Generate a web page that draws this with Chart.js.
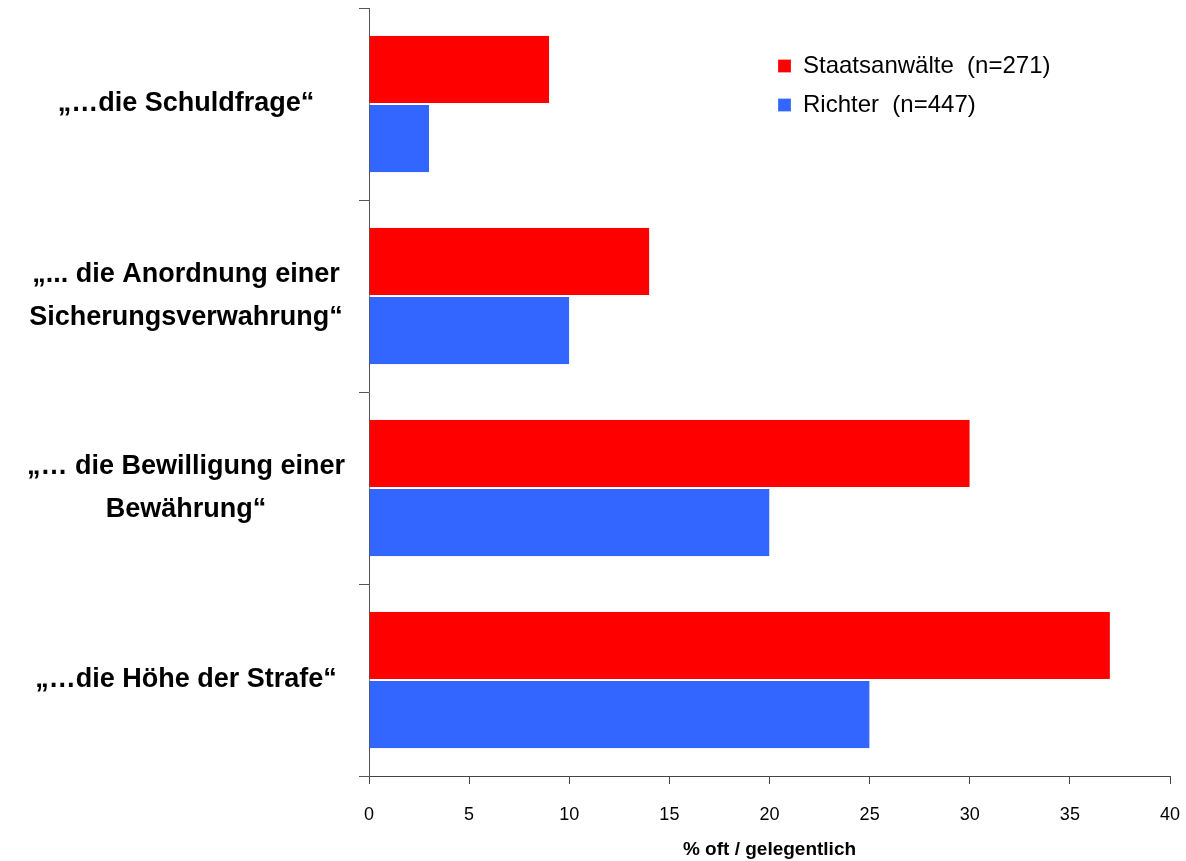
<!DOCTYPE html>
<html>
<head>
<meta charset="utf-8">
<script src="https://cdn.jsdelivr.net/npm/chart.js@4/dist/chart.umd.min.js"></script>
<style>
  html, body { margin: 0; padding: 0; background: #fff; }
  #wrap { width: 1186px; height: 861px; }
</style>
</head>
<body>
<div id="wrap"><canvas id="chart" width="1186" height="861"></canvas></div>
<script>
// Data
const categories = [
    ['\u201E\u2026die Schuldfrage\u201C'],
    ['\u201E... die Anordnung einer', 'Sicherungsverwahrung\u201C'],
    ['\u201E\u2026 die Bewilligung einer', 'Bew\u00E4hrung\u201C'],
    ['\u201E\u2026die H\u00F6he der Strafe\u201C']
];
const staatsanwaelte = [9, 14, 30, 37];
const richter = [3, 10, 20, 25];
const seriesLabels = ['Staatsanw\u00E4lte  (n=271)', 'Richter  (n=447)'];
const xTicks = [0, 5, 10, 15, 20, 25, 30, 35, 40];
const xTitle = '% oft / gelegentlich';

const FONT = "'Liberation Sans', Arial, sans-serif";

// move the legend into the top right corner of the plot
const legendPlacer = {
    id: 'legendPlacer',
    afterLayout(chart) {
        const lg = chart.legend;
        if (!lg) return;
        const w = lg.width, h = lg.height;
        lg.left = 763;
        lg.top = 39;
        lg.right = lg.left + w;
        lg.bottom = lg.top + h;
    }
};

const ctx = document.getElementById('chart').getContext('2d');
new Chart(ctx, {
    type: 'bar',
    data: {
        labels: categories,
        datasets: [
            {
                label: seriesLabels[0],
                data: staatsanwaelte,
                backgroundColor: '#FF0000',
                borderColor: '#FFFFFF',
                borderWidth: { top: 0, right: 0, bottom: 1, left: 0 },
                borderSkipped: false
            },
            {
                label: seriesLabels[1],
                data: richter,
                backgroundColor: '#3366FF',
                borderColor: '#FFFFFF',
                borderWidth: { top: 1, right: 0, bottom: 0, left: 0 },
                borderSkipped: false
            }
        ]
    },
    options: {
        indexAxis: 'y',
        responsive: false,
        animation: false,
        categoryPercentage: 0.71,
        barPercentage: 1.0,
        layout: { padding: { left: 0, right: 16, top: 8, bottom: 0 } },
        plugins: {
            tooltip: { enabled: false },
            legend: {
                position: 'chartArea',
                align: 'start',
                labels: {
                    boxWidth: 13,
                    boxHeight: 13,
                    padding: 15,
                    color: '#000',
                    font: { family: FONT, size: 24 }
                }
            }
        },
        scales: {
            x: {
                min: 0,
                max: 40,
                afterBuildTicks(scale) {
                    scale.ticks = xTicks.map(v => ({ value: v }));
                },
                afterFit(scale) {
                    scale.height = 861 - 776;
                    scale.paddingLeft = 0;
                    scale.paddingRight = 0;
                },
                border: { color: '#444', width: 1 },
                grid: {
                    drawOnChartArea: false,
                    drawTicks: true,
                    tickLength: 8,
                    color: '#444'
                },
                ticks: {
                    color: '#000',
                    padding: 20,
                    maxRotation: 0,
                    font: { family: FONT, size: 18 }
                },
                title: {
                    display: true,
                    text: xTitle,
                    color: '#000',
                    padding: { top: 0, bottom: 0 },
                    font: { family: FONT, size: 19, weight: 'bold' }
                }
            },
            y: {
                afterFit(scale) {
                    scale.width = 369;
                    scale.paddingTop = 0;
                    scale.paddingBottom = 0;
                },
                border: { color: '#555', width: 1 },
                grid: {
                    offset: true,
                    drawOnChartArea: false,
                    drawTicks: true,
                    tickLength: 10,
                    color: '#555'
                },
                ticks: {
                    color: '#000',
                    crossAlign: 'center',
                    padding: 14,
                    font: { family: FONT, size: 27, weight: 'bold', lineHeight: 1.6 }
                }
            }
        }
    },
    plugins: [legendPlacer]
});
</script>
</body>
</html>
